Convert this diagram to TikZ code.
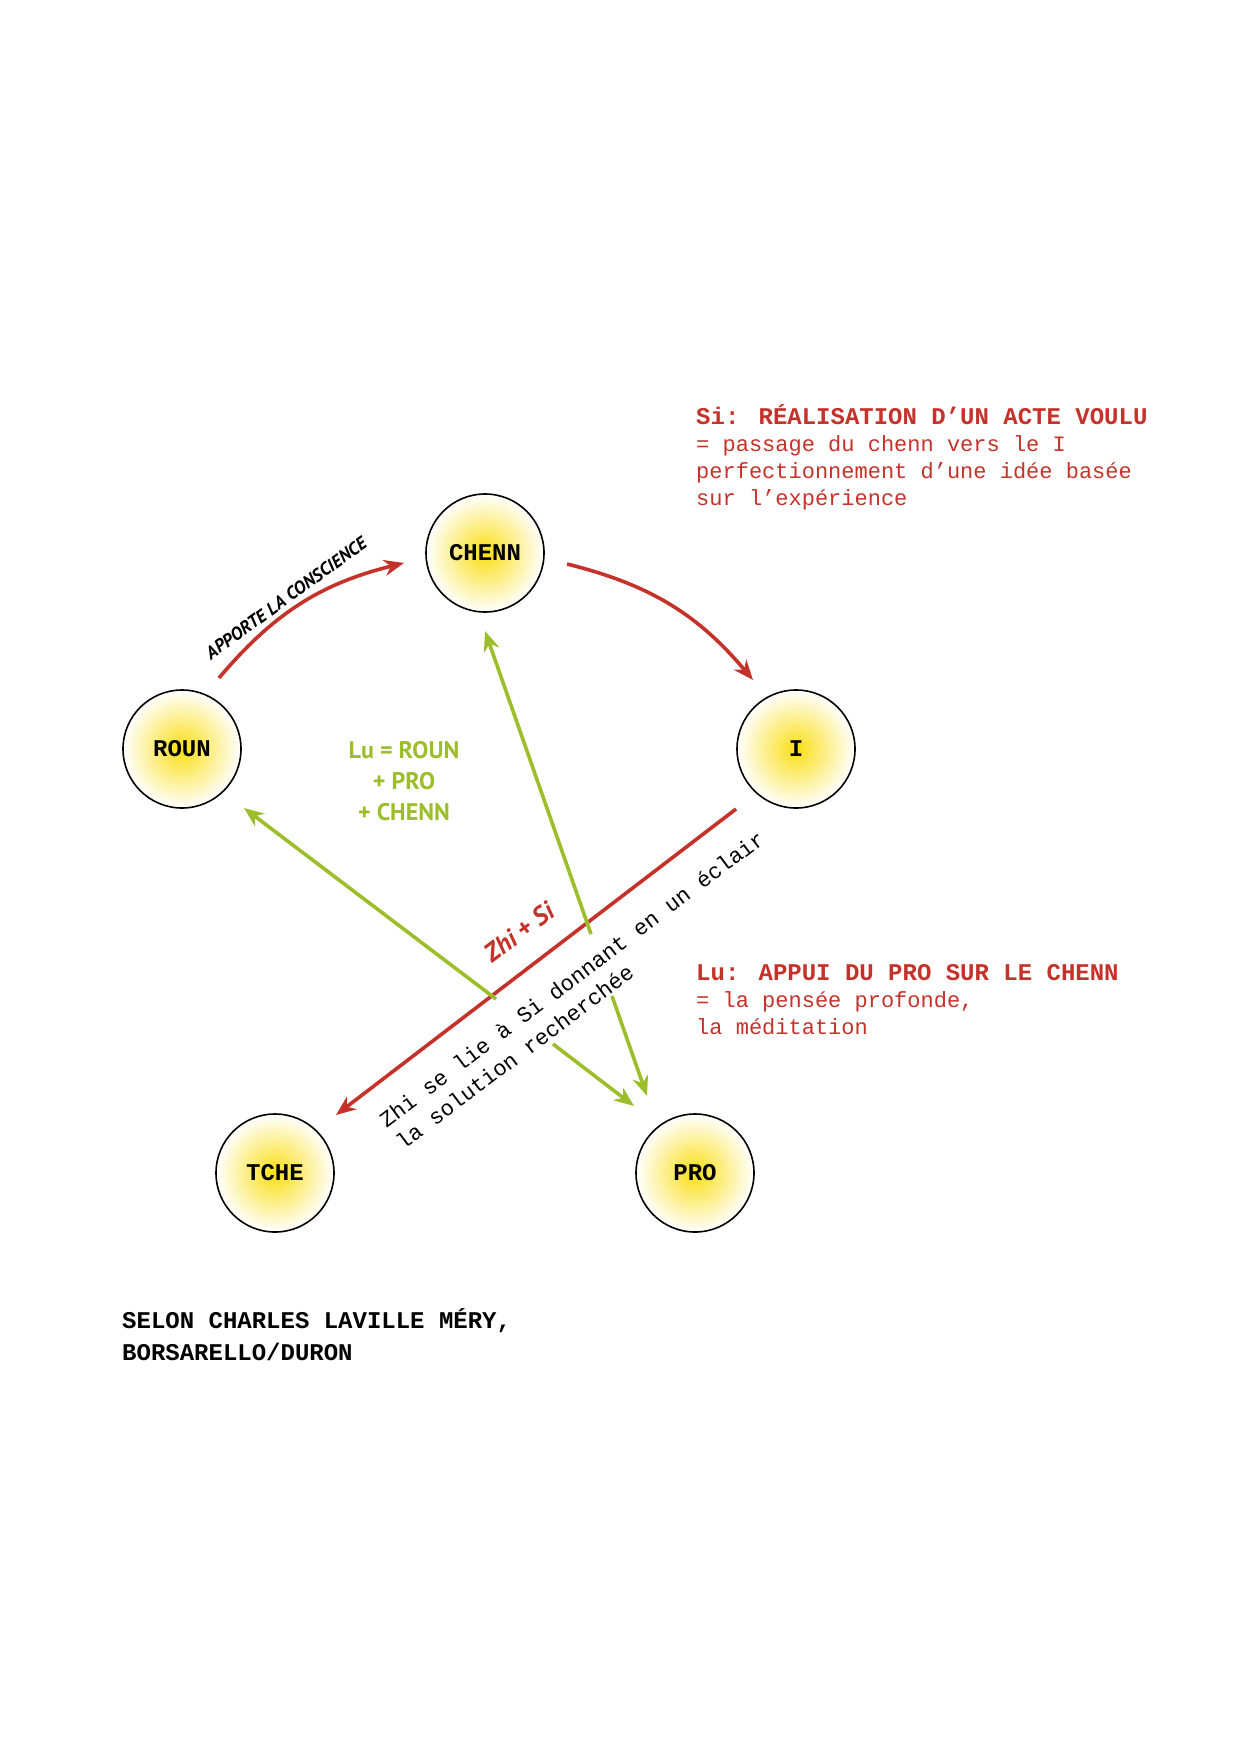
\documentclass[tikz,border=0pt]{standalone}
\usepackage{fontspec}
\setmainfont{Liberation Mono}
\newfontfamily\cond{PT Sans}
\usetikzlibrary{arrows.meta}
\definecolor{rouge}{RGB}{196,50,42}
\definecolor{vert}{RGB}{156,190,42}
\definecolor{soleil}{RGB}{250,222,20}
\tikzset{
  point/.style={circle, draw, line width=1.6pt, minimum size=118pt, inner sep=0pt,
    inner color=soleil, outer color=white, font=\fontsize{24}{24}\selectfont\bfseries},
  fleche/.style={line width=3.6pt, -{Stealth[length=20pt,width=16pt]}},
  titre/.style={anchor=north west, align=left, text=rouge, inner sep=0pt}
}
\begin{document}
\begin{tikzpicture}[x=1pt, y=-1pt]
  \useasboundingbox (0,0) rectangle (1241,1755);
  % les cinq points
  \node [point] (chenn) at (485,553) {CHENN};
  \node [point] (roun) at (182,749) {ROUN};
  \node [point] (i) at (796,749) {I};
  \node [point] (tche) at (275,1173) {TCHE};
  \node [point] (pro) at (695,1173) {PRO};

  \coordinate (r1) at (219,678);
  \coordinate (r2) at (404,563);
  \coordinate (r3) at (567,564);
  \coordinate (r4) at (753,680);
  \coordinate (r5) at (736,809);
  \coordinate (r6) at (336,1115);

  \draw [fleche, rouge] (r1) to[bend left=18] (r2);
  \draw [fleche, rouge] (r3) to[bend left=18] (r4);
  \draw [fleche, rouge] (r5) -- (r6);

  % lignes vertes
  \coordinate (g1) at (496,999);
  \coordinate (g2) at (244,808);
  \coordinate (g3) at (553,1044);
  \coordinate (g4) at (634,1106);
  \coordinate (g5) at (591,934);
  \coordinate (g6) at (485,631);
  \coordinate (g7) at (612,996);
  \coordinate (g8) at (647,1096);
  \draw [fleche, vert] (g1) -- (g2);
  \draw [fleche, vert] (g3) -- (g4);
  \draw [fleche, vert] (g5) -- (g6);
  \draw [fleche, vert] (g7) -- (g8);

  % textes
  \node [rotate=36, font=\cond\fontsize{18}{18}\selectfont\bfseries\itshape] (apporte) at (286,598) {APPORTE LA CONSCIENCE};
  \node [align=center, text=vert, font=\cond\fontsize{24}{31}\selectfont\bfseries] (lu) at (404,781) {Lu = ROUN\\+ PRO\\+ CHENN};
  \node [rotate=37, text=rouge, font=\cond\fontsize{26}{26}\selectfont\bfseries\itshape] (zhisi) at (519,932) {Zhi + Si};
  \node [rotate=37, align=left, font=\fontsize{22}{28}\selectfont] (zhi) at (580,990) {Zhi se lie à Si donnant en un éclair\\la solution recherchée};

  \node [titre, font=\fontsize{22}{27}\selectfont] (si) at (696,404)
    {{\bfseries\fontsize{24}{27}\selectfont Si: RÉALISATION D’UN ACTE VOULU}\\= passage du chenn vers le I\\perfectionnement d’une idée basée\\sur l’expérience};
  \node [titre, font=\fontsize{22}{27}\selectfont] (lutxt) at (696,964)
    {{\bfseries\fontsize{24}{27}\selectfont Lu: APPUI DU PRO SUR LE CHENN}\\= la pensée profonde,\\la méditation};
  \node [anchor=north west, align=left, inner sep=0pt, font=\fontsize{24}{32}\selectfont\bfseries] (selon) at (122,1308)
    {SELON CHARLES LAVILLE MÉRY,\\BORSARELLO/DURON};
\end{tikzpicture}
\end{document}
